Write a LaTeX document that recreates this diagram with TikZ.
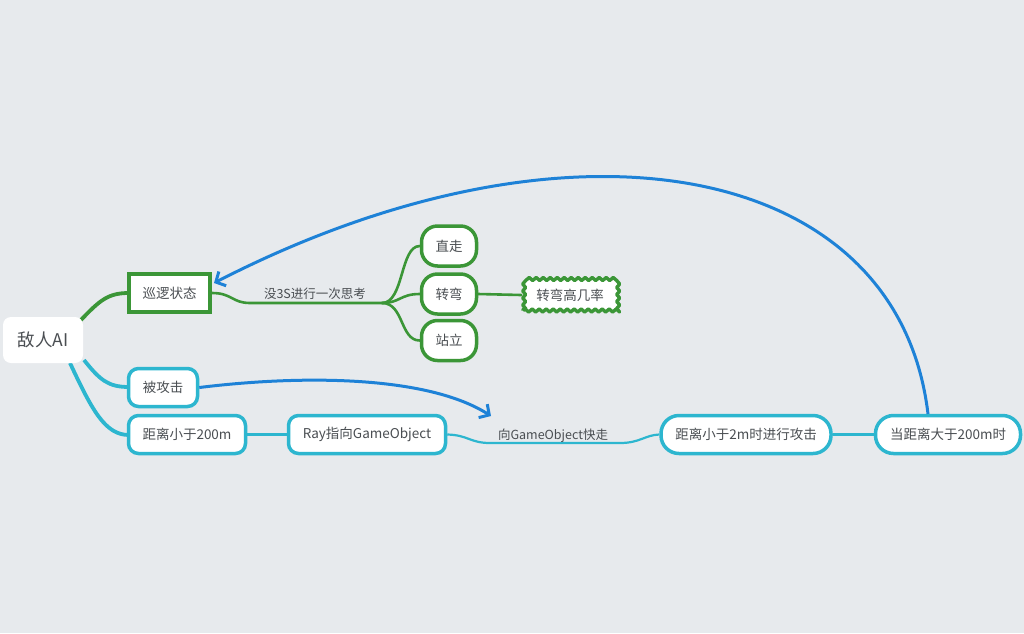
\documentclass[tikz,border=0pt]{standalone}
\usepackage{fontspec}
\setmainfont{Noto Sans CJK SC}
\usetikzlibrary{arrows.meta,decorations.pathmorphing}
\definecolor{bg}{HTML}{E7EAED}
\definecolor{grn}{HTML}{3B9637}
\definecolor{cyn}{HTML}{2DB6CF}
\definecolor{blu}{HTML}{1E82D7}
\definecolor{txt}{HTML}{4A4E52}
\tikzset{
  base/.style={fill=white, text=txt, font=\fontsize{13.5}{15}\selectfont, inner sep=0pt, anchor=center},
  rootbox/.style={base, rounded corners=8pt, minimum width=80pt, minimum height=46pt, font=\fontsize{17.5}{19}\selectfont},
  greenbox/.style={base, draw=grn, line width=4pt, minimum width=81pt, minimum height=38pt},
  leafbox/.style={base, draw=grn, line width=3.5pt, rounded corners=16pt, minimum width=55pt, minimum height=40pt},
  cloudbox/.style={base, draw=grn, line width=3.4pt, line join=round, minimum width=94pt, minimum height=31pt,
     decorate, decoration={snake, amplitude=1.5pt, segment length=7pt}},
  cyanbox/.style={base, draw=cyn, line width=3.5pt, rounded corners=10pt, minimum height=38pt},
  pillbox/.style={base, draw=cyn, line width=3.5pt, rounded corners=18pt, minimum height=38pt},
  gline/.style={draw=grn, line width=2.6pt, line cap=round},
  gthick/.style={draw=grn, line width=3.8pt},
  cline/.style={draw=cyn, line width=2.2pt},
  cthick/.style={draw=cyn, line width=3.8pt},
  barrow/.style={draw=blu, line width=3pt, -{Straight Barb[length=7.5pt,width=16pt,line width=3pt]}},
  lbl/.style={text=txt, font=\fontsize{12.5}{14}\selectfont, inner sep=0pt}
}
\begin{document}
\begin{tikzpicture}[x=1pt,y=-1pt]
\fill[bg] (0,0) rectangle (1024,633);
\useasboundingbox (0,0) rectangle (1024,633);

% connectors from the root
\coordinate (r1) at (80,321);
\coordinate (r2) at (84,360);
\coordinate (r3) at (70,363);
\path[gthick] (r1) .. controls (100,300) and (108,293) .. (129,293);
\path[cthick] (r2) .. controls (100,380) and (108,387) .. (129,387);
\path[cthick] (r3) .. controls (92,410) and (105,435) .. (129,435);

% nodes
\node[rootbox] (root) at (43,340) {敌人AI};
\node[greenbox] (patrol) at (169.5,293) {巡逻状态};
\node[leafbox] (walk) at (449,246) {直走};
\node[leafbox] (turn) at (449,294) {转弯};
\node[leafbox] (stand) at (449,340.5) {站立};
\node[cloudbox] (prob) at (570,295) {};
\node[base, fill=none] (probtext) at (570,295) {转弯高几率};
\node[cyanbox, minimum width=69pt] (hit) at (163,387.5) {被攻击};
\node[cyanbox, minimum width=117pt] (near) at (187,434.5) {距离小于200m};
\node[cyanbox, minimum width=157pt] (ray) at (367,434.5) {Ray指向GameObject};
\node[pillbox, minimum width=170pt] (attack) at (746,434.5) {距离小于2m时进行攻击};
\node[pillbox, minimum width=145pt] (far) at (948,434.5) {当距离大于200m时};

% patrol thinking branch
\coordinate (split) at (382,303);
\coordinate (tk) at (250,303);
\path[gline] (patrol.east) .. controls (232,293) and (232,303) .. (tk) -- (split);
\node[lbl] (think) at (315,294) {没3S进行一次思考};
\path[gline] (split) .. controls (404,303) and (400,246) .. (walk.west);
\path[gline] (split) .. controls (400,303) and (400,294) .. (turn.west);
\path[gline] (split) .. controls (404,303) and (400,340.5) .. (stand.west);
\path[gline] (turn.east) -- (prob.west);

% approach chain
\path[cline] (near.east) -- (ray.west);
\coordinate (m1) at (490,443);
\coordinate (m2) at (620,443);
\path[cline] (ray.east) .. controls (468,435) and (470,443) .. (m1) -- (m2) .. controls (640,443) and (645,435) .. (attack.west);
\node[lbl] (run) at (553,436) {向GameObject快走};
\path[cline] (attack.east) -- (far.west);

% blue transition arrows
\coordinate (hitend) at (491,416);
\coordinate (farup) at (928,414);
\coordinate (patrolin) at (214,283);
\path[barrow] (hit.east) .. controls (310,374) and (430,377) .. (hitend);
\path[barrow] (farup) .. controls (898,160) and (570,100) .. (patrolin);
\end{tikzpicture}
\end{document}
